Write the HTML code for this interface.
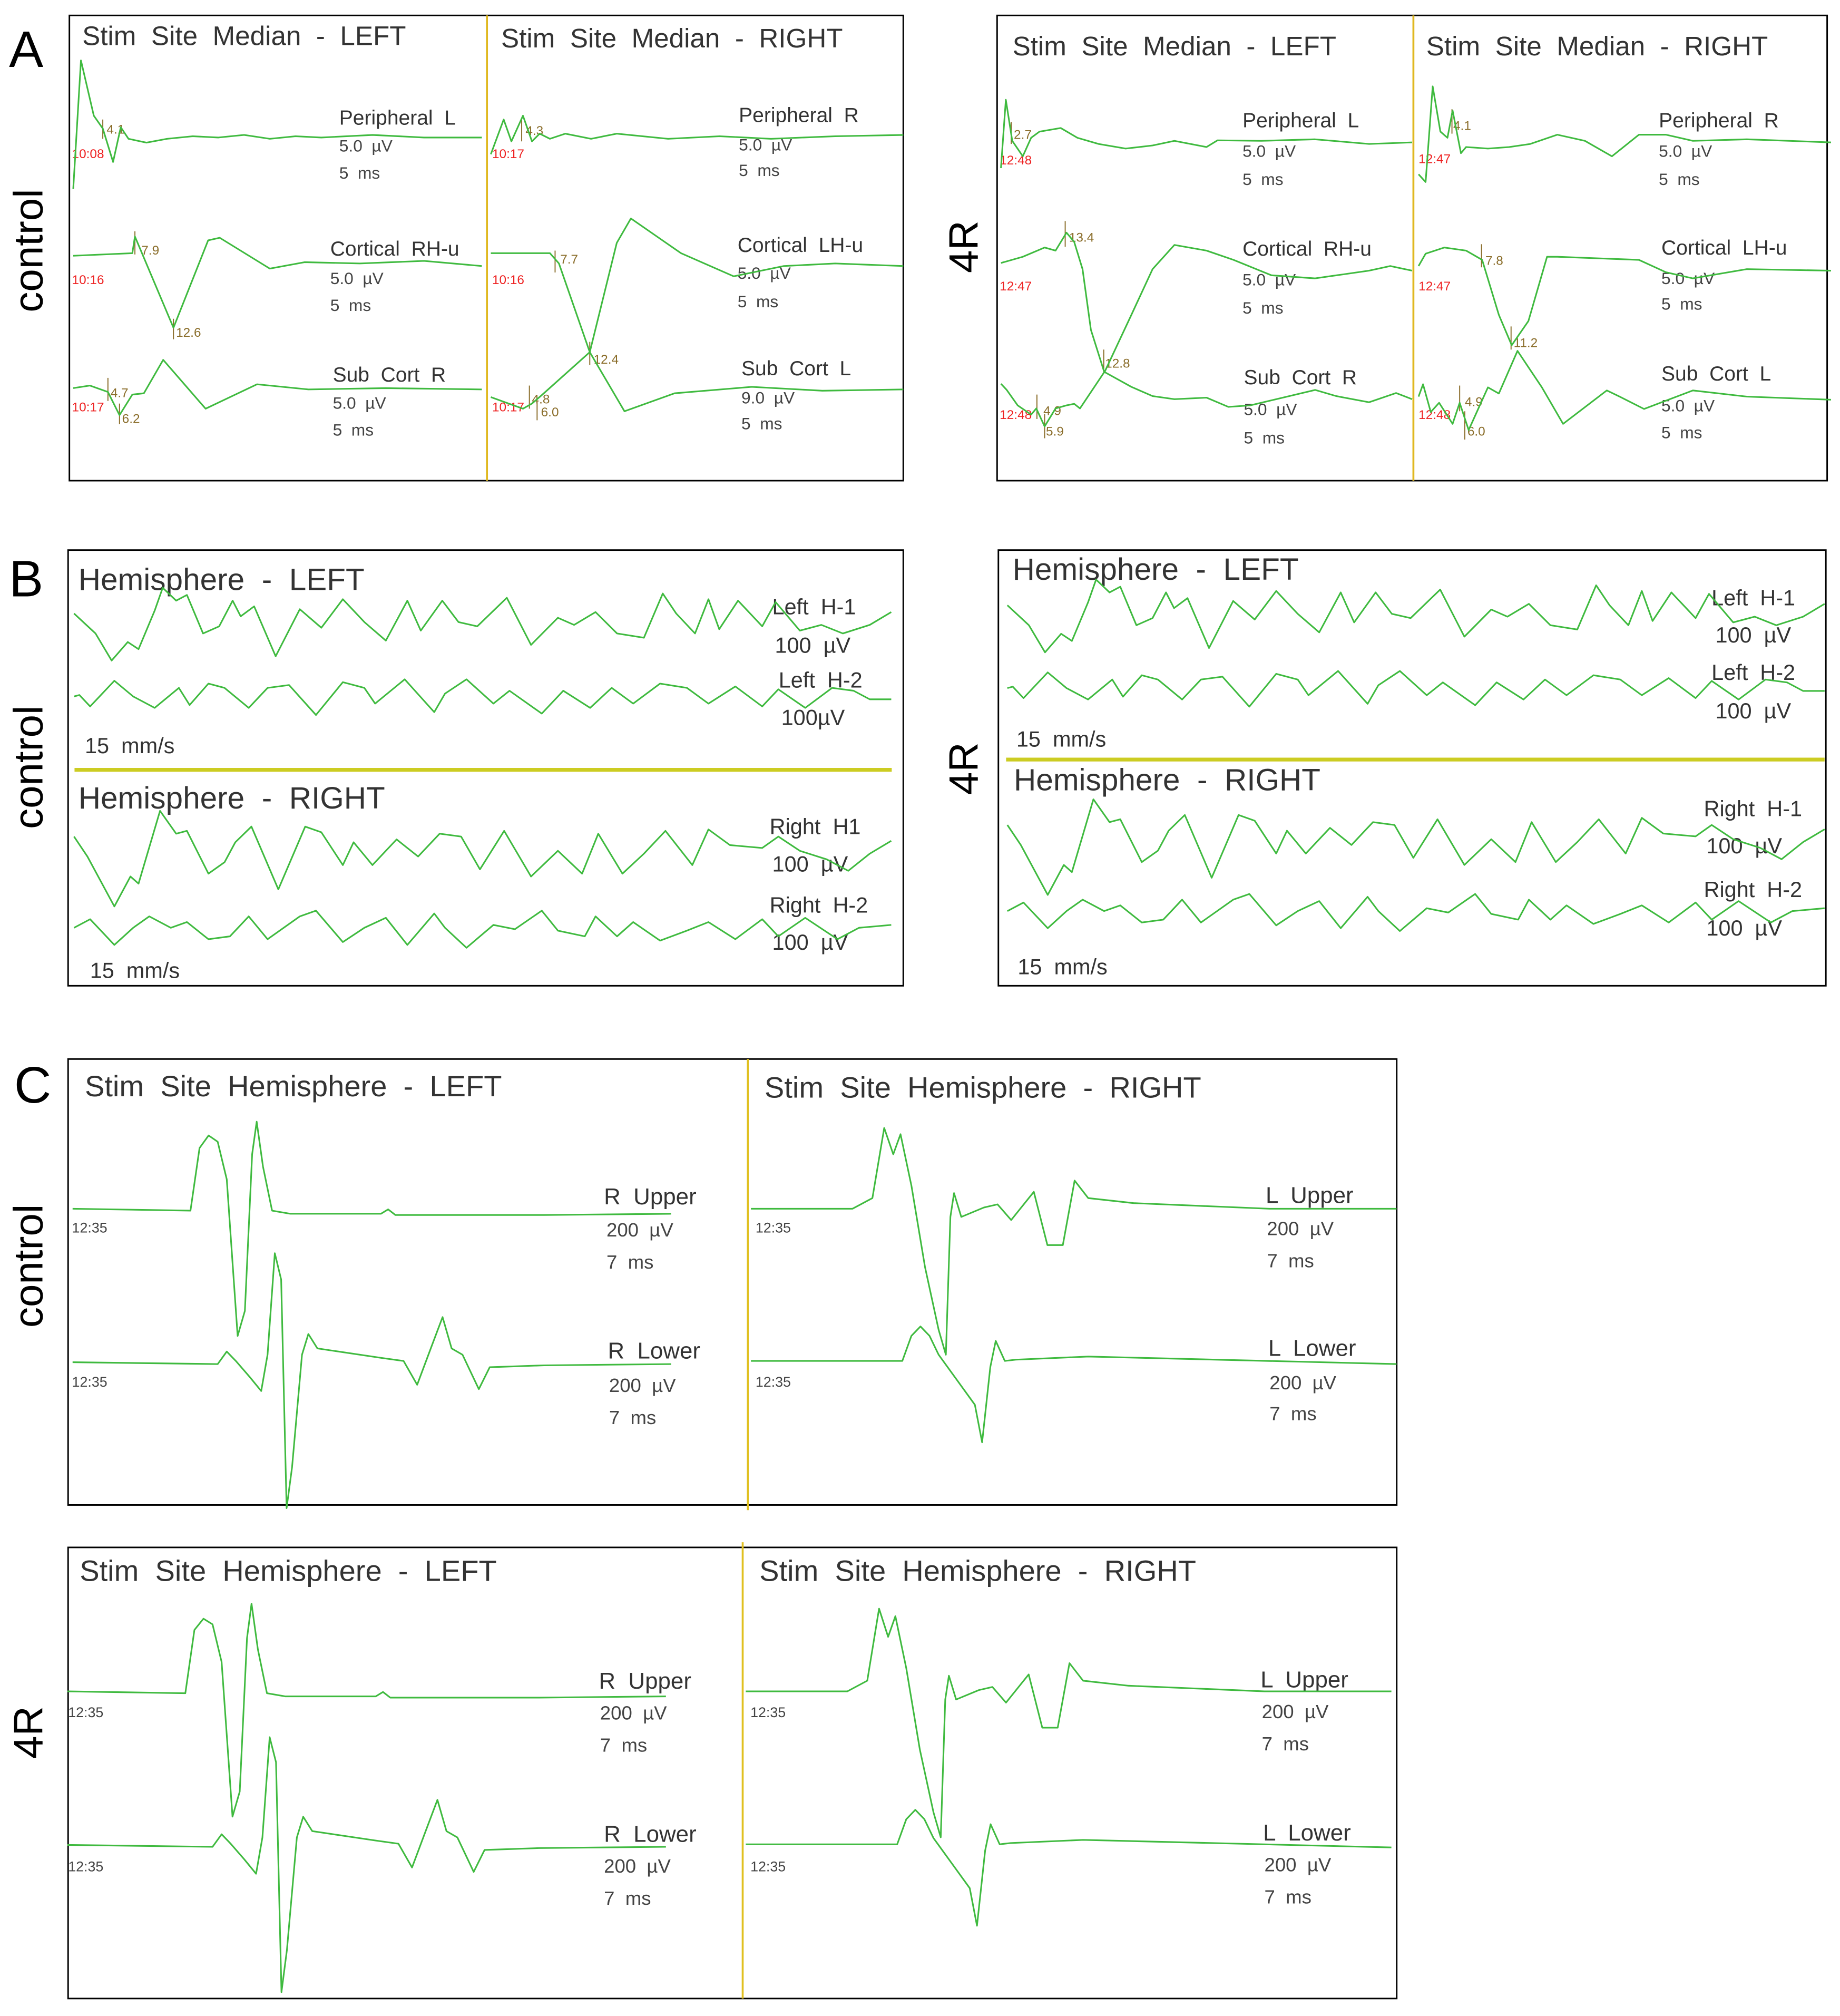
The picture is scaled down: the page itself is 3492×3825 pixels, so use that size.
<!DOCTYPE html>
<html><head><meta charset="utf-8"><style>
html,body{margin:0;padding:0;background:#fff;}
svg{display:block;}
text{font-family:"Liberation Sans",sans-serif;}
.tr{fill:none;stroke:#3fba3f;stroke-width:1.25;stroke-linejoin:round;}
.box{fill:none;stroke:#000;stroke-width:1.2;}
.t1{font-size:21px;fill:#333;}
.t2{font-size:16px;fill:#333;}
.t3{font-size:13px;fill:#444;}
.ts{font-size:10px;fill:#e22;}
.lt{font-size:10px;fill:#8a6d2a;}
.big{font-size:40px;fill:#000;}
.side{font-size:32px;fill:#000;}
</style></head><body>
<svg id="fig" width="3492" height="3825" viewBox="0 0 1432 1568.6" preserveAspectRatio="none" xmlns="http://www.w3.org/2000/svg">
<rect width="1432" height="1568.6" fill="#fff"/>
<text class="big" x="7" y="52">A</text>
<text class="big" x="7" y="464">B</text>
<text class="big" x="11" y="858">C</text>
<text class="side" transform="translate(33,195) rotate(-90)" text-anchor="middle">control</text>
<text class="side" transform="translate(33,597) rotate(-90)" text-anchor="middle">control</text>
<text class="side" transform="translate(33,985) rotate(-90)" text-anchor="middle">control</text>
<text class="side" transform="translate(761,192) rotate(-90)" text-anchor="middle">4R</text>
<text class="side" transform="translate(761,598) rotate(-90)" text-anchor="middle">4R</text>
<text class="side" transform="translate(33,1348) rotate(-90)" text-anchor="middle">4R</text>

<rect class="box" x="54" y="12" width="649" height="362"/>
<line x1="379" y1="12" x2="379" y2="374" stroke="#e0b820" stroke-width="1.5"/>
<rect class="box" x="776" y="12" width="646" height="362"/>
<line x1="1100" y1="12" x2="1100" y2="374" stroke="#e0b820" stroke-width="1.5"/>
<g>
<text class="t1" x="64" y="35" xml:space="preserve">Stim  Site  Median  -  LEFT</text>
<text class="t1" x="390" y="37" xml:space="preserve">Stim  Site  Median  -  RIGHT</text>
<text class="t1" x="788" y="43" xml:space="preserve">Stim  Site  Median  -  LEFT</text>
<text class="t1" x="1110" y="43" xml:space="preserve">Stim  Site  Median  -  RIGHT</text>
<text class="t2" x="264" y="97" xml:space="preserve">Peripheral  L</text><text class="t3" x="264" y="118" xml:space="preserve">5.0  µV</text><text class="t3" x="264" y="139" xml:space="preserve">5  ms</text>
<text class="t2" x="257" y="199" xml:space="preserve">Cortical  RH-u</text><text class="t3" x="257" y="221" xml:space="preserve">5.0  µV</text><text class="t3" x="257" y="242" xml:space="preserve">5  ms</text>
<text class="t2" x="259" y="297" xml:space="preserve">Sub  Cort  R</text><text class="t3" x="259" y="318" xml:space="preserve">5.0  µV</text><text class="t3" x="259" y="339" xml:space="preserve">5  ms</text>
<text class="t2" x="575" y="95" xml:space="preserve">Peripheral  R</text><text class="t3" x="575" y="117" xml:space="preserve">5.0  µV</text><text class="t3" x="575" y="137" xml:space="preserve">5  ms</text>
<text class="t2" x="574" y="196" xml:space="preserve">Cortical  LH-u</text><text class="t3" x="574" y="217" xml:space="preserve">5.0  µV</text><text class="t3" x="574" y="239" xml:space="preserve">5  ms</text>
<text class="t2" x="577" y="292" xml:space="preserve">Sub  Cort  L</text><text class="t3" x="577" y="314" xml:space="preserve">9.0  µV</text><text class="t3" x="577" y="334" xml:space="preserve">5  ms</text>
<text class="t2" x="967" y="99" xml:space="preserve">Peripheral  L</text><text class="t3" x="967" y="122" xml:space="preserve">5.0  µV</text><text class="t3" x="967" y="144" xml:space="preserve">5  ms</text>
<text class="t2" x="967" y="199" xml:space="preserve">Cortical  RH-u</text><text class="t3" x="967" y="222" xml:space="preserve">5.0  µV</text><text class="t3" x="967" y="244" xml:space="preserve">5  ms</text>
<text class="t2" x="968" y="299" xml:space="preserve">Sub  Cort  R</text><text class="t3" x="968" y="323" xml:space="preserve">5.0  µV</text><text class="t3" x="968" y="345" xml:space="preserve">5  ms</text>
<text class="t2" x="1291" y="99" xml:space="preserve">Peripheral  R</text><text class="t3" x="1291" y="122" xml:space="preserve">5.0  µV</text><text class="t3" x="1291" y="144" xml:space="preserve">5  ms</text>
<text class="t2" x="1293" y="198" xml:space="preserve">Cortical  LH-u</text><text class="t3" x="1293" y="221" xml:space="preserve">5.0  µV</text><text class="t3" x="1293" y="241" xml:space="preserve">5  ms</text>
<text class="t2" x="1293" y="296" xml:space="preserve">Sub  Cort  L</text><text class="t3" x="1293" y="320" xml:space="preserve">5.0  µV</text><text class="t3" x="1293" y="341" xml:space="preserve">5  ms</text>
<text class="ts" x="56" y="123">10:08</text><text class="ts" x="383" y="123">10:17</text>
<text class="ts" x="56" y="221">10:16</text><text class="ts" x="383" y="221">10:16</text>
<text class="ts" x="56" y="320">10:17</text><text class="ts" x="383" y="320">10:17</text>
<text class="ts" x="778" y="128">12:48</text><text class="ts" x="1104" y="127">12:47</text>
<text class="ts" x="778" y="226">12:47</text><text class="ts" x="1104" y="226">12:47</text>
<text class="ts" x="778" y="326">12:48</text><text class="ts" x="1104" y="326">12:48</text>
<text class="lt" x="83" y="104">4.1</text><text class="lt" x="409" y="105">4.3</text>
<text class="lt" x="110" y="198">7.9</text><text class="lt" x="137" y="262">12.6</text>
<text class="lt" x="436" y="205">7.7</text><text class="lt" x="462" y="283">12.4</text>
<text class="lt" x="86" y="309">4.7</text><text class="lt" x="95" y="329">6.2</text>
<text class="lt" x="414" y="314">4.8</text><text class="lt" x="421" y="324">6.0</text>
<text class="lt" x="789" y="108">2.7</text><text class="lt" x="1131" y="101">4.1</text>
<text class="lt" x="832" y="188">13.4</text><text class="lt" x="860" y="286">12.8</text>
<text class="lt" x="812" y="323">4.9</text><text class="lt" x="814" y="339">5.9</text>
<text class="lt" x="1156" y="206">7.8</text><text class="lt" x="1178" y="270">11.2</text>
<text class="lt" x="1140" y="316">4.9</text><text class="lt" x="1142" y="339">6.0</text>
</g>
<g stroke="#8a6d2a" stroke-width="0.8">
<line x1="80" y1="93" x2="80" y2="108"/><line x1="406" y1="93" x2="406" y2="110"/>
<line x1="105" y1="180" x2="105" y2="198"/><line x1="135" y1="248" x2="135" y2="264"/>
<line x1="432" y1="195" x2="432" y2="212"/><line x1="459" y1="266" x2="459" y2="284"/>
<line x1="84" y1="294" x2="84" y2="312"/><line x1="93" y1="314" x2="93" y2="330"/>
<line x1="412" y1="300" x2="412" y2="318"/><line x1="418" y1="312" x2="418" y2="327"/>
<line x1="787" y1="95" x2="787" y2="112"/><line x1="1130" y1="85" x2="1130" y2="104"/>
<line x1="829" y1="172" x2="829" y2="192"/><line x1="859" y1="272" x2="859" y2="290"/>
<line x1="807" y1="307" x2="807" y2="326"/><line x1="813" y1="322" x2="813" y2="341"/>
<line x1="1153" y1="190" x2="1153" y2="208"/><line x1="1176" y1="254" x2="1176" y2="272"/>
<line x1="1136" y1="300" x2="1136" y2="320"/><line x1="1140" y1="320" x2="1140" y2="342"/>
</g>

<rect class="box" x="53" y="428" width="650" height="339"/>
<line x1="58" y1="599" x2="694" y2="599" stroke="#cccc22" stroke-width="3"/>
<rect class="box" x="777" y="428" width="644" height="339"/>
<line x1="783" y1="591" x2="1420" y2="591" stroke="#cccc22" stroke-width="3"/>
<g>
<text class="t1" style="font-size:24px" x="61" y="459" xml:space="preserve">Hemisphere  -  LEFT</text>
<text class="t2" style="font-size:17px" x="601" y="478" xml:space="preserve">Left  H-1</text><text class="t2" style="font-size:17px" x="603" y="508" xml:space="preserve">100  µV</text>
<text class="t2" style="font-size:17px" x="606" y="535" xml:space="preserve">Left  H-2</text><text class="t2" style="font-size:17px" x="608" y="564">100µV</text>
<text class="t2" style="font-size:17px" x="66" y="586" xml:space="preserve">15  mm/s</text>
<text class="t1" style="font-size:24px" x="61" y="629" xml:space="preserve">Hemisphere  -  RIGHT</text>
<text class="t2" style="font-size:17px" x="599" y="649" xml:space="preserve">Right  H1</text><text class="t2" style="font-size:17px" x="601" y="678" xml:space="preserve">100  µV</text>
<text class="t2" style="font-size:17px" x="599" y="710" xml:space="preserve">Right  H-2</text><text class="t2" style="font-size:17px" x="601" y="739" xml:space="preserve">100  µV</text>
<text class="t2" style="font-size:17px" x="70" y="761" xml:space="preserve">15  mm/s</text>
<text class="t1" style="font-size:24px" x="788" y="451" xml:space="preserve">Hemisphere  -  LEFT</text>
<text class="t2" style="font-size:17px" x="1332" y="471" xml:space="preserve">Left  H-1</text><text class="t2" style="font-size:17px" x="1335" y="500" xml:space="preserve">100  µV</text>
<text class="t2" style="font-size:17px" x="1332" y="529" xml:space="preserve">Left  H-2</text><text class="t2" style="font-size:17px" x="1335" y="559" xml:space="preserve">100  µV</text>
<text class="t2" style="font-size:17px" x="791" y="581" xml:space="preserve">15  mm/s</text>
<text class="t1" style="font-size:24px" x="789" y="615" xml:space="preserve">Hemisphere  -  RIGHT</text>
<text class="t2" style="font-size:17px" x="1326" y="635" xml:space="preserve">Right  H-1</text><text class="t2" style="font-size:17px" x="1328" y="664" xml:space="preserve">100  µV</text>
<text class="t2" style="font-size:17px" x="1326" y="698" xml:space="preserve">Right  H-2</text><text class="t2" style="font-size:17px" x="1328" y="728" xml:space="preserve">100  µV</text>
<text class="t2" style="font-size:17px" x="792" y="758" xml:space="preserve">15  mm/s</text>
</g>

<rect class="box" x="53" y="824" width="1034" height="347"/>
<line x1="582" y1="824" x2="582" y2="1175" stroke="#e0c020" stroke-width="1.5"/>
<rect class="box" x="53" y="1204" width="1034" height="351"/>
<line x1="578" y1="1200" x2="578" y2="1555" stroke="#e0c020" stroke-width="1.5"/>
<g>
<text class="t1" style="font-size:23px" x="66" y="853" xml:space="preserve">Stim  Site  Hemisphere  -  LEFT</text>
<text class="t1" style="font-size:23px" x="595" y="854" xml:space="preserve">Stim  Site  Hemisphere  -  RIGHT</text>
<text class="t2" style="font-size:18px" x="470" y="937" xml:space="preserve">R  Upper</text><text class="t3" style="font-size:15px" x="472" y="962" xml:space="preserve">200  µV</text><text class="t3" style="font-size:15px" x="472" y="987" xml:space="preserve">7  ms</text>
<text class="t2" style="font-size:18px" x="473" y="1057" xml:space="preserve">R  Lower</text><text class="t3" style="font-size:15px" x="474" y="1083" xml:space="preserve">200  µV</text><text class="t3" style="font-size:15px" x="474" y="1108" xml:space="preserve">7  ms</text>
<text class="t2" style="font-size:18px" x="985" y="936" xml:space="preserve">L  Upper</text><text class="t3" style="font-size:15px" x="986" y="961" xml:space="preserve">200  µV</text><text class="t3" style="font-size:15px" x="986" y="986" xml:space="preserve">7  ms</text>
<text class="t2" style="font-size:18px" x="987" y="1055" xml:space="preserve">L  Lower</text><text class="t3" style="font-size:15px" x="988" y="1081" xml:space="preserve">200  µV</text><text class="t3" style="font-size:15px" x="988" y="1105" xml:space="preserve">7  ms</text>
<text class="t3" style="font-size:11px" x="56" y="959">12:35</text><text class="t3" style="font-size:11px" x="588" y="959">12:35</text>
<text class="t3" style="font-size:11px" x="56" y="1079">12:35</text><text class="t3" style="font-size:11px" x="588" y="1079">12:35</text>
<text class="t1" style="font-size:23px" x="62" y="1230" xml:space="preserve">Stim  Site  Hemisphere  -  LEFT</text>
<text class="t1" style="font-size:23px" x="591" y="1230" xml:space="preserve">Stim  Site  Hemisphere  -  RIGHT</text>
<text class="t2" style="font-size:18px" x="466" y="1314" xml:space="preserve">R  Upper</text><text class="t3" style="font-size:15px" x="467" y="1338" xml:space="preserve">200  µV</text><text class="t3" style="font-size:15px" x="467" y="1363" xml:space="preserve">7  ms</text>
<text class="t2" style="font-size:18px" x="470" y="1433" xml:space="preserve">R  Lower</text><text class="t3" style="font-size:15px" x="470" y="1457" xml:space="preserve">200  µV</text><text class="t3" style="font-size:15px" x="470" y="1482" xml:space="preserve">7  ms</text>
<text class="t2" style="font-size:18px" x="981" y="1313" xml:space="preserve">L  Upper</text><text class="t3" style="font-size:15px" x="982" y="1337" xml:space="preserve">200  µV</text><text class="t3" style="font-size:15px" x="982" y="1362" xml:space="preserve">7  ms</text>
<text class="t2" style="font-size:18px" x="983" y="1432" xml:space="preserve">L  Lower</text><text class="t3" style="font-size:15px" x="984" y="1456" xml:space="preserve">200  µV</text><text class="t3" style="font-size:15px" x="984" y="1481" xml:space="preserve">7  ms</text>
<text class="t3" style="font-size:11px" x="53" y="1336">12:35</text><text class="t3" style="font-size:11px" x="584" y="1336">12:35</text>
<text class="t3" style="font-size:11px" x="53" y="1456">12:35</text><text class="t3" style="font-size:11px" x="584" y="1456">12:35</text>
</g>
<g id="traces"></g>
</svg>
<script>
// ---------- Panel A (ms, µV) ----------
const aCtlPerLT=[0,1.2,3.2,4.6,6.2,7.4,8.6,11.4,14.6,18.6,22.6,26.6,30.6,34.6,38.6,46.6,54.6,63.6];
const aCtlPerLV=[-10,15,4.25,1.75,-4.75,2,-0.25,-1,-0.25,0.25,0,0.5,-0.25,0.25,0,0.5,0,0];
const aCtlPerRT=[0,2,3.2,5,6.4,7.6,9.2,11.6,15.6,19.6,27.6,35.6,43.6,53.6,64.2];
const aCtlPerRV=[-3.25,3.5,-0.75,4.25,-0.75,0.75,-0.25,0.75,-0.25,0.75,-0.25,0.25,-0.25,0.25,0.5];
const aCtlCorRT=[0,9.2,9.6,15.6,21,22.8,30.6,36,44.6,54.6,63.6];
const aCtlCorRV=[1.5,2,5.25,-12.5,4.5,5,-1,0.25,0,0.5,-0.5];
const aCtlCorLT=[0,9.2,10.6,15.4,19.6,21.8,29.6,37.8,45.6,53.6,64.2];
const aCtlCorLV=[2,2,0,-17.25,4,8.75,2,-2.5,-0.5,0,-0.5];
const aCtlSubRT=[0,2.6,5.4,7.2,9.2,11,14,20.6,28.6,36.6,48.6,63.6];
const aCtlSubRV=[0.25,0.75,-0.5,-5,-1,-0.75,5.75,-3.75,1,0,0.25,0];
const aCtlSubLT=[0,5,6.4,7.8,15.4,20.8,28.6,40.6,51.6,64.2];
const aCtlSubLV=[-1.5,-3.75,-2.75,-1.25,7.25,-4.25,-0.75,0.5,-0.25,0];
const a4rPerLT=[0,0.76,1.76,3.4,4.7,6,9.3,11.9,15.2,19.4,23.6,27,32,33.7,40.5,48.9,57.3,64];
const a4rPerLV=[-4.7,8.6,0.6,-2.4,1.2,2.4,3.1,1.2,0,-0.9,-0.3,0.6,-0.6,0.7,0.6,0.9,0,0.3];
const a4rCorRT=[0,3.4,6.8,8.5,10.2,11.4,12.7,14,16.1,20.3,23.6,27,32,36.2,42.1,48.9,57.3,60.6,64];
const a4rCorRV=[0.6,1.8,3.6,3,6.5,4.7,-0.6,-12.4,-20.7,-9.5,-0.6,4.1,3,1.2,-1.8,-2.4,-0.9,0,-0.9];
const a4rSubRT=[0,0.9,2.6,4.7,5.5,6.8,8.5,10.2,11.4,12.3,16.1,20.3,23.6,27,32,35.4,38.8,48.9,52.2,57.3,61.5,64];
const a4rSubRV=[3.6,2.4,-0.6,-2.4,-1.2,-4.7,-1.2,-0.6,-0.3,-1.2,5.9,3,1.2,0.6,0.9,-0.9,-0.6,2.4,1.2,0,1.8,0.6];
const a4rPerRT=[0,1.1,2.2,3.4,4.5,5.3,6.6,7.4,10.8,14.1,17.4,21.6,25.9,30.1,34.3,38.5,42.7,51.1,64.2];
const a4rPerRV=[-5.9,-7.4,11.2,2.4,1.2,6.5,-1.8,-0.6,-0.9,-0.6,0,1.8,0.6,-2.4,1.8,1.8,0.6,0.9,0.3];
const a4rCorLT=[0,1.1,4,7.4,9.9,12.5,14.5,17.1,20,21.6,34.3,38.5,42.7,51.1,64.2];
const a4rCorLV=[0,2.4,3.6,3,1.2,-9.5,-15.4,-10.7,1.8,1.8,1.2,-1.2,-2.4,-0.6,-0.9];
const a4rSubLT=[0,0.7,1.9,3.2,5.3,6.4,7.8,10.8,12.5,15.4,19.2,22.5,29.3,31.3,35.1,42.7,51.1,64.2];
const a4rSubLV=[0.6,3,-2.4,-0.6,-4.7,-0.6,-5.9,2.4,1.2,9.5,2.4,-4.7,1.8,0.6,-1.8,1.8,0.6,0];

// ---------- Panel B (time s, µV) ----------
const bCtlLH1T=[0,0.25,0.4375,0.625,0.75,0.9375,1.031,1.1875,1.3125,1.5,1.6875,1.844,1.9375,2.094,2.344,2.625,2.875,3.125,3.375,3.625,3.875,4.031,4.281,4.469,4.6875,5.031,5.3125,5.625,5.8125,6.0625,6.3125,6.625,6.844,7,7.219,7.375,7.5,7.719,8,8.156,8.4375,8.6875,8.9375,9.25,9.5];
const bCtlLH1V=[15,-20,-67.5,-35,-47.5,20,60,37.5,47.5,-20,-7.5,37.5,10,27.5,-60,22.5,-10,40,0,-32.5,37.5,-15,37.5,0,-7.5,42.5,-40,7.5,-5,17.5,-20,-27.5,50,15,-20,40,-12.5,37.5,-7.5,35,-15,-5,-20,-5,17.5];
const bCtlLH2T=[0,0.0625,0.1875,0.469,0.6875,0.9375,1.219,1.344,1.5625,1.75,2.031,2.25,2.5,2.8125,3.125,3.375,3.5,3.844,4.1875,4.3125,4.5625,4.875,5.0625,5.4375,5.6875,6,6.25,6.5,6.8125,7.125,7.375,7.6875,8,8.1875,8.5,8.8125,9.0625,9.25,9.5];
const bCtlLH2V=[2.5,5,-15,30,2.5,-17.5,17.5,-12.5,25,17.5,-17.5,17.5,22.5,-30,27.5,17.5,-10,32.5,-25,7.5,32.5,-10,12.5,-27.5,12.5,-17.5,17.5,-10,25,17.5,-10,20,-15,15,-17.5,17.5,12.5,-2.5,-2.5];
const bCtlRH1T=[0,0.156,0.469,0.656,0.75,1,1.1875,1.3125,1.5625,1.75,1.875,2.0625,2.375,2.6875,2.875,3.125,3.25,3.469,3.75,4,4.25,4.5,4.719,5,5.3125,5.625,5.906,6.094,6.375,6.625,6.875,7.1875,7.375,7.625,8,8.1875,8.4375,8.75,9,9.25,9.5];
const bCtlRH1V=[25,-10,-97.5,-45,-57.5,70,30,35,-40,-20,15,42.5,-67.5,42.5,32.5,-25,15,-25,20,-10,30,25,-32.5,35,-45,0,-40,30,-40,-5,35,-25,37.5,10,5,25,0,-15,-35,-5,17.5];
const bCtlRH2T=[0,0.1875,0.469,0.6875,0.875,1.125,1.3125,1.5625,1.8125,2.031,2.25,2.625,2.8125,3.125,3.375,3.625,3.875,4.1875,4.3125,4.5625,4.875,5.125,5.4375,5.625,5.9375,6.0625,6.3125,6.5,6.8125,7.125,7.375,7.6875,8,8.1875,8.5,8.875,9.125,9.5];
const bCtlRH2V=[2.5,17.5,-27.5,2.5,22.5,2.5,12.5,-17.5,-12.5,22.5,-17.5,22.5,32.5,-22.5,2.5,20,-27.5,27.5,2.5,-32.5,7.5,0,32.5,-2.5,-12.5,22.5,-12.5,12.5,-20,-2.5,12.5,-17.5,17.5,-12.5,20,-17.5,2.5,7.5];
const b4rLH1T=[0,0.25,0.4375,0.625,0.75,0.9375,1.031,1.1875,1.3125,1.5,1.6875,1.844,1.9375,2.094,2.344,2.625,2.875,3.125,3.375,3.625,3.875,4.031,4.281,4.469,4.6875,5.031,5.3125,5.625,5.8125,6.0625,6.3125,6.625,6.844,7,7.219,7.375,7.5,7.719,8,8.156,8.4375,8.6875,8.9375,9.25,9.5];
const b4rLH1V=[15,-20,-67.5,-35,-47.5,20,60,37.5,47.5,-20,-7.5,37.5,10,27.5,-60,22.5,-10,40,0,-32.5,37.5,-15,37.5,0,-7.5,42.5,-40,7.5,-5,17.5,-20,-27.5,50,15,-20,40,-12.5,37.5,-7.5,35,-15,-5,-20,-5,17.5];
const b4rLH2T=[0,0.0625,0.1875,0.469,0.6875,0.9375,1.219,1.344,1.5625,1.75,2.031,2.25,2.5,2.8125,3.125,3.375,3.5,3.844,4.1875,4.3125,4.5625,4.875,5.0625,5.4375,5.6875,6,6.25,6.5,6.8125,7.125,7.375,7.6875,8,8.1875,8.5,8.8125,9.0625,9.25,9.5];
const b4rLH2V=[2.5,5,-15,30,2.5,-17.5,17.5,-12.5,25,17.5,-17.5,17.5,22.5,-30,27.5,17.5,-10,32.5,-25,7.5,32.5,-10,12.5,-27.5,12.5,-17.5,17.5,-10,25,17.5,-10,20,-15,15,-17.5,17.5,12.5,-2.5,-2.5];
const b4rRH1T=[0,0.156,0.469,0.656,0.75,1,1.1875,1.3125,1.5625,1.75,1.875,2.0625,2.375,2.6875,2.875,3.125,3.25,3.469,3.75,4,4.25,4.5,4.719,5,5.3125,5.625,5.906,6.094,6.375,6.625,6.875,7.1875,7.375,7.625,8,8.1875,8.4375,8.75,9,9.25,9.5];
const b4rRH1V=[25,-10,-97.5,-45,-57.5,70,30,35,-40,-20,15,42.5,-67.5,42.5,32.5,-25,15,-25,20,-10,30,25,-32.5,35,-45,0,-40,30,-40,-5,35,-25,37.5,10,5,25,0,-15,-35,-5,17.5];
const b4rRH2T=[0,0.1875,0.469,0.6875,0.875,1.125,1.3125,1.5625,1.8125,2.031,2.25,2.625,2.8125,3.125,3.375,3.625,3.875,4.1875,4.3125,4.5625,4.875,5.125,5.4375,5.625,5.9375,6.0625,6.3125,6.5,6.8125,7.125,7.375,7.6875,8,8.1875,8.5,8.875,9.125,9.5];
const b4rRH2V=[2.5,17.5,-27.5,2.5,22.5,2.5,12.5,-17.5,-12.5,22.5,-17.5,22.5,32.5,-22.5,2.5,20,-27.5,27.5,2.5,-32.5,7.5,0,32.5,-2.5,-12.5,22.5,-12.5,12.5,-20,-2.5,12.5,-17.5,17.5,-12.5,20,-17.5,2.5,7.5];

// ---------- Panel C (ms, µV) ----------
const cCtlRUpT=[0,13,14,15,16,17,18.2,19,19.8,20.3,21,22,24,34,34.8,35.6,52,66];
const cCtlRUpV=[0,-6,194,234,214,94,-406,-326,174,278,134,-6,-16,-16,-2,-20,-20,-16];
const cCtlRLoT=[0,16,17,18,19.5,20.8,21.5,22.3,23,23.6,24.2,25.3,26,27,34,36.5,38,39.5,40.8,41.8,43,44.8,46,52,66];
const cCtlRLoV=[0,-6,34,4,-46,-92,24,348,264,-466,-336,24,90,44,14,4,-72,44,144,44,24,-86,-16,-10,-6];
const cCtlLUpT=[0,11.2,13.4,14.7,15.7,16.5,17.7,19.2,20.7,21.5,22,22.4,23.2,25.7,27.2,28.7,31.2,32.7,34.4,35.7,37.2,42.2,57.2,71.2];
const cCtlLUpV=[0,0,34,258,174,238,74,-186,-386,-466,-26,50,-26,4,14,-36,54,-116,-116,90,34,18,0,0];
const cCtlLLoT=[0,16.7,17.7,18.7,19.7,20.7,22.7,24.7,25.5,26.4,27,28,29.2,37.2,71.2];
const cCtlLLoV=[0,0,80,110,80,20,-60,-140,-260,-20,64,0,4,14,-10];
const c4rRUpT=[0,13,14,15,16,17,18.2,19,19.8,20.3,21,22,24,34,34.8,35.6,52,66];
const c4rRUpV=[0,-6,196,232,214,94,-400,-320,170,280,134,-6,-16,-16,-2,-20,-20,-16];
const c4rRLoT=[0,16,17,18,19.5,20.8,21.5,22.3,23,23.6,24.2,25.3,26,27,34,36.5,38,39.5,40.8,41.8,43,44.8,46,52,66];
const c4rRLoV=[0,-6,34,4,-46,-92,24,344,264,-470,-336,24,90,44,14,4,-72,44,144,44,24,-86,-16,-10,-6];
const c4rLUpT=[0,11.2,13.4,14.7,15.7,16.5,17.7,19.2,20.7,21.5,22,22.4,23.2,25.7,27.2,28.7,31.2,32.7,34.4,35.7,37.2,42.2,57.2,71.2];
const c4rLUpV=[0,0,34,264,174,240,74,-186,-386,-466,-26,50,-26,4,14,-36,54,-116,-116,90,34,18,0,0];
const c4rLLoT=[0,16.7,17.7,18.7,19.7,20.7,22.7,24.7,25.5,26.4,27,28,29.2,37.2,71.2];
const c4rLLoV=[0,0,80,110,80,20,-60,-140,-260,-20,64,0,4,14,-10];

const NS='http://www.w3.org/2000/svg';
const G=document.getElementById('traces');
function xAxis(x0,pxPerUnit){return t=>x0+t*pxPerUnit;}
function yAxis(base,pxPerUnit){return v=>base-v*pxPerUnit;}
function plot(ts,vs,sx,sy,name){
  const pts=ts.map((t,i)=>sx(t).toFixed(2)+','+sy(vs[i]).toFixed(2)).join(' ');
  const p=document.createElementNS(NS,'polyline');
  p.setAttribute('points',pts);
  p.setAttribute('class','tr');
  
  
  G.appendChild(p);
}
const A_MS=5,A_UV=4;
plot(aCtlPerLT,aCtlPerLV,xAxis(57,A_MS),yAxis(107,A_UV),'trace-control-peripheral-l');
plot(aCtlPerRT,aCtlPerRV,xAxis(382,A_MS),yAxis(107,A_UV),'trace-control-peripheral-r');
plot(aCtlCorRT,aCtlCorRV,xAxis(57,A_MS),yAxis(205,A_UV),'trace-control-cortical-rh');
plot(aCtlCorLT,aCtlCorLV,xAxis(382,A_MS),yAxis(205,A_UV),'trace-control-cortical-lh');
plot(aCtlSubRT,aCtlSubRV,xAxis(57,A_MS),yAxis(303,A_UV),'trace-control-subcort-r');
plot(aCtlSubLT,aCtlSubLV,xAxis(382,A_MS),yAxis(303,A_UV),'trace-control-subcort-l');
plot(a4rPerLT,a4rPerLV,xAxis(779,A_MS),yAxis(112,A_UV),'trace-4r-peripheral-l');
plot(a4rCorRT,a4rCorRV,xAxis(779,A_MS),yAxis(207,A_UV),'trace-4r-cortical-rh');
plot(a4rSubRT,a4rSubRV,xAxis(779,A_MS),yAxis(313,A_UV),'trace-4r-subcort-r');
plot(a4rPerRT,a4rPerRV,xAxis(1104,A_MS),yAxis(112,A_UV),'trace-4r-peripheral-r');
plot(a4rCorLT,a4rCorLV,xAxis(1104,A_MS),yAxis(207,A_UV),'trace-4r-cortical-lh');
plot(a4rSubLT,a4rSubLV,xAxis(1104,A_MS),yAxis(311,A_UV),'trace-4r-subcort-l');
const B_S=66.95,B_UV=0.444;
plot(bCtlLH1T,bCtlLH1V,xAxis(57.6,B_S),yAxis(484,B_UV),'trace-control-left-h1');
plot(bCtlLH2T,bCtlLH2V,xAxis(57.6,B_S),yAxis(543,B_UV),'trace-control-left-h2');
plot(bCtlRH1T,bCtlRH1V,xAxis(57.6,B_S),yAxis(662,B_UV),'trace-control-right-h1');
plot(bCtlRH2T,bCtlRH2V,xAxis(57.6,B_S),yAxis(723,B_UV),'trace-control-right-h2');
plot(b4rLH1T,b4rLH1V,xAxis(784,B_S),yAxis(477.6,B_UV),'trace-4r-left-h1');
plot(b4rLH2T,b4rLH2V,xAxis(784,B_S),yAxis(536.5,B_UV),'trace-4r-left-h2');
plot(b4rRH1T,b4rRH1V,xAxis(784,B_S),yAxis(653,B_UV),'trace-4r-right-h1');
plot(b4rRH2T,b4rRH2V,xAxis(784,B_S),yAxis(710,B_UV),'trace-4r-right-h2');
const C_MS=7.057,C_UV=0.2437;
plot(cCtlRUpT,cCtlRUpV,xAxis(56.5,C_MS),yAxis(940.5,C_UV),'trace-control-r-upper');
plot(cCtlRLoT,cCtlRLoV,xAxis(56.5,C_MS),yAxis(1059.9,C_UV),'trace-control-r-lower');
plot(cCtlLUpT,cCtlLUpV,xAxis(584.4,C_MS),yAxis(940.5,C_UV),'trace-control-l-upper');
plot(cCtlLLoT,cCtlLLoV,xAxis(584.4,C_MS),yAxis(1058.9,C_UV),'trace-control-l-lower');
plot(c4rRUpT,c4rRUpV,xAxis(52.5,C_MS),yAxis(1316,C_UV),'trace-4r-r-upper');
plot(c4rRLoT,c4rRLoV,xAxis(52.5,C_MS),yAxis(1435.5,C_UV),'trace-4r-r-lower');
plot(c4rLUpT,c4rLUpV,xAxis(580.4,C_MS),yAxis(1316,C_UV),'trace-4r-l-upper');
plot(c4rLLoT,c4rLLoV,xAxis(580.4,C_MS),yAxis(1435,C_UV),'trace-4r-l-lower');
</script>
</body></html>
